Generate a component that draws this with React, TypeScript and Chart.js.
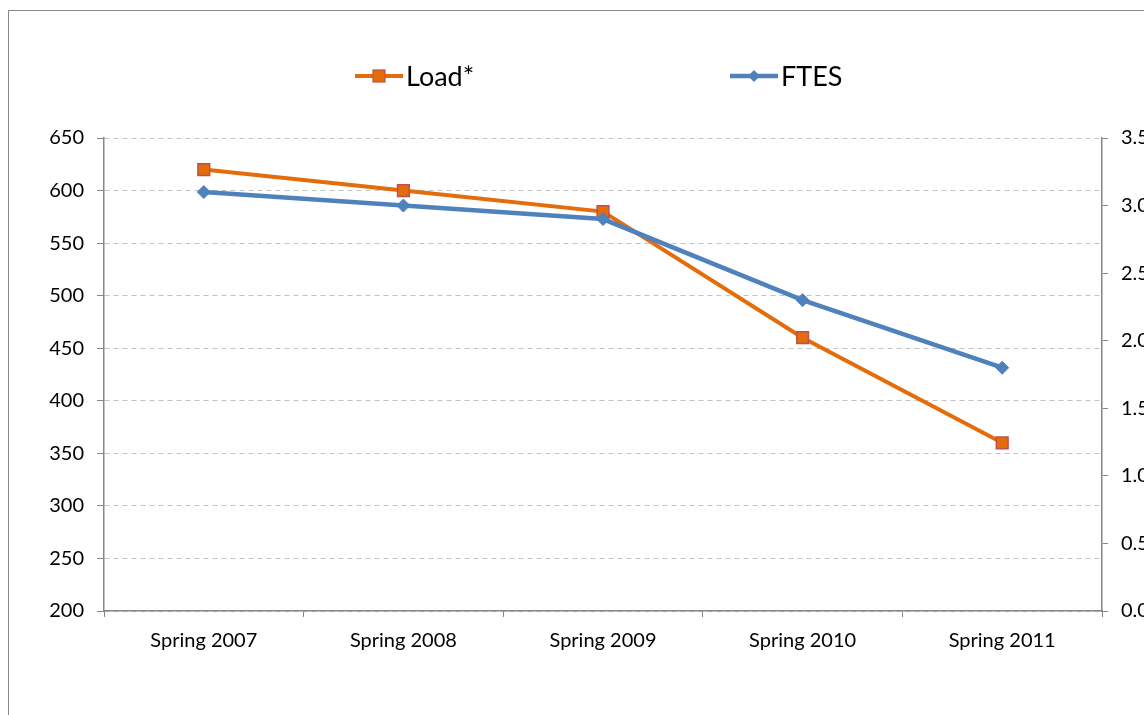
import React, { useEffect, useRef } from "react";
import { Chart, registerables } from "chart.js";

Chart.register(...registerables);

const categories = ["Spring 2007", "Spring 2008", "Spring 2009", "Spring 2010", "Spring 2011"];
const loadValues = [620, 600, 580, 460, 360];
const ftesValues = [3.1, 3.0, 2.9, 2.3, 1.8];
const seriesLabels = ["Load*", "FTES"];

const ORANGE = "#E46C0A";
const ORANGE_EDGE = "#C0504D";
const BLUE = "#4F81BD";
const AXIS = "#868686";
const GRID = "#c3c3c3";
const FONT = "Lato, 'Open Sans', sans-serif";

const CANVAS_W = 1200;
const CANVAS_H = 720;

const legendPlugin = {
  id: "lineMarkerLegend",
  afterDraw(chart: any) {
    const ctx = chart.ctx as CanvasRenderingContext2D;
    const left = chart.chartArea.left;
    const y = 65;
    const starts = [left + 251, left + 626];
    chart.data.datasets.forEach((ds: any, i: number) => {
      const x0 = starts[i];
      ctx.save();
      ctx.strokeStyle = ds.borderColor;
      ctx.lineWidth = ds.borderWidth;
      ctx.beginPath();
      ctx.moveTo(x0, y);
      ctx.lineTo(x0 + 48, y);
      ctx.stroke();
      const cx = x0 + 24;
      if (ds.pointStyle === "rect") {
        ctx.fillStyle = ds.pointBackgroundColor;
        ctx.fillRect(cx - 6, y - 6, 12, 12);
        ctx.strokeStyle = ds.pointBorderColor;
        ctx.lineWidth = 1.2;
        ctx.strokeRect(cx - 6, y - 6, 12, 12);
      } else {
        ctx.fillStyle = ds.pointBackgroundColor;
        ctx.beginPath();
        ctx.moveTo(cx, y - 6);
        ctx.lineTo(cx + 6, y);
        ctx.lineTo(cx, y + 6);
        ctx.lineTo(cx - 6, y);
        ctx.closePath();
        ctx.fill();
      }
      ctx.fillStyle = "#000";
      ctx.font = `27px ${FONT}`;
      ctx.textBaseline = "alphabetic";
      ctx.textAlign = "left";
      ctx.fillText(ds.label, x0 + 51, y + 10);
      ctx.restore();
    });
  },
};

export default function App() {
  const canvasRef = useRef<HTMLCanvasElement | null>(null);

  useEffect(() => {
    document.documentElement.style.overflow = "hidden";
    const canvas = canvasRef.current;
    if (!canvas) return;
    const chart = new Chart(canvas, {
      type: "line",
      data: {
        labels: categories,
        datasets: [
          {
            label: seriesLabels[0],
            data: loadValues,
            yAxisID: "y",
            borderColor: ORANGE,
            backgroundColor: ORANGE,
            borderWidth: 4,
            pointStyle: "rect",
            pointRadius: 8.3,
            pointHoverRadius: 8.3,
            pointBackgroundColor: ORANGE,
            pointBorderColor: ORANGE_EDGE,
            pointBorderWidth: 1.5,
            tension: 0,
            order: 1,
          },
          {
            label: seriesLabels[1],
            data: ftesValues,
            yAxisID: "y1",
            borderColor: BLUE,
            backgroundColor: BLUE,
            borderWidth: 4.5,
            pointStyle: "rectRot",
            pointRadius: 6.5,
            pointHoverRadius: 6.5,
            pointBackgroundColor: BLUE,
            pointBorderColor: BLUE,
            pointBorderWidth: 1,
            tension: 0,
            order: 0,
          },
        ],
      },
      options: {
        responsive: false,
        animation: false,
        layout: { padding: { top: 127, left: 0, right: 0, bottom: 0 } },
        font: { family: FONT, size: 20 },
        plugins: {
          legend: { display: false },
          tooltip: { enabled: false },
        },
        scales: {
          x: {
            offset: true,
            afterFit: (s: any) => {
              s.height = CANVAS_H - 600;
            },
            grid: {
              display: true,
              drawOnChartArea: false,
              offset: true,
              tickLength: 6,
              tickColor: AXIS,
              tickWidth: 1,
            },
            border: { display: true, color: AXIS, width: 1.5 },
            ticks: {
              color: "#000",
              font: { family: FONT, size: 20 },
              padding: 12,
              maxRotation: 0,
            },
          },
          y: {
            position: "left",
            min: 200,
            max: 650,
            afterFit: (s: any) => {
              s.width = 95;
            },
            grid: {
              color: GRID,
              lineWidth: 1,
              drawOnChartArea: true,
              tickLength: 7,
              tickColor: AXIS,
              tickWidth: 1,
            },
            border: { display: true, color: AXIS, width: 1.5, dash: [5, 4] },
            ticks: {
              stepSize: 50,
              color: "#000",
              font: { family: FONT, size: 20 },
              padding: 13,
            },
          },
          y1: {
            position: "right",
            min: 0,
            max: 3.5,
            afterFit: (s: any) => {
              s.width = CANVAS_W - 1093;
            },
            grid: {
              drawOnChartArea: false,
              tickLength: 6,
              tickColor: AXIS,
              tickWidth: 1,
            },
            border: { display: true, color: AXIS, width: 1.5 },
            ticks: {
              stepSize: 0.5,
              color: "#000",
              font: { family: FONT, size: 20 },
              padding: 13,
              callback: (v: any) => Number(v).toFixed(1),
            },
          },
        },
      },
      plugins: [legendPlugin],
    });
    return () => chart.destroy();
  }, []);

  return (
    <div style={{ position: "fixed", left: 8, top: 8, right: 0, bottom: 0, overflow: "hidden" }}>
      <div
        style={{
          position: "absolute",
          top: 2,
          left: 0,
          width: CANVAS_W + 20,
          height: CANVAS_H + 20,
          borderLeft: "1.3px solid #888",
          borderTop: "1.3px solid #888",
          background: "#fff",
        }}
      >
        <canvas ref={canvasRef} width={CANVAS_W} height={CANVAS_H} style={{ display: "block" }} />
      </div>
    </div>
  );
}
